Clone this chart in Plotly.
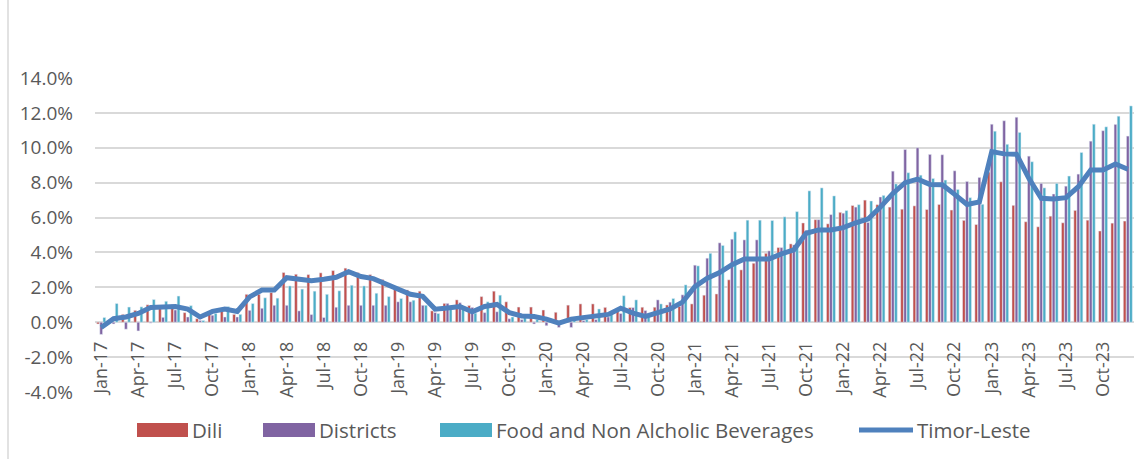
import plotly.graph_objects as go

# monthly labels Jan-17 .. Dec-23
month_names = ['Jan', 'Feb', 'Mar', 'Apr', 'May', 'Jun', 'Jul', 'Aug', 'Sep', 'Oct', 'Nov', 'Dec']
months = [m + '-' + str(y) for y in range(17, 24) for m in month_names]

dili = [-0.1, 0.1, 0.45, 0.68, 1.0, 0.92, 1.0, 0.55, 0.2, 0.45, 0.65, 0.45,
        1.6, 1.6, 1.7, 2.85, 2.75, 2.73, 2.83, 2.96, 3.1, 2.85, 2.73, 2.45,
        2.05, 1.85, 1.78, 0.65, 1.08, 1.28, 0.96, 1.47, 1.78, 1.17, 0.87, 0.87,
        0.7, 0.57, 0.98, 1.05, 1.05, 0.85, 0.8, 0.84, 0.86, 0.86, 0.99, 0.9,
        1.05, 1.55, 1.62, 2.43, 3.0, 3.38, 3.95, 4.28, 4.49, 5.69, 5.88, 5.64,
        6.3, 6.69, 7.0, 6.74, 6.6, 6.48, 6.67, 6.46, 6.75, 6.43, 5.84, 5.6,
        8.6, 8.05, 6.7, 5.76, 5.47, 6.08, 5.7, 6.41, 5.85, 5.23, 5.68, 5.8]

districts = [-0.7, -0.1, -0.4, -0.5, -0.05, 0.28, 0.7, 0.3, 0.1, 0.4, 0.3, 0.3,
             0.68, 0.8, 0.97, 0.97, 0.65, 0.44, 0.27, 0.86, 0.97, 0.97, 0.97, 0.97,
             1.17, 1.17, 0.97, 0.55, 1.08, 1.12, 0.85, 0.55, 0.6, 0.2, 0.15, -0.1,
             -0.2, -0.3, -0.3, 0.1, 0.15, 0.3, 0.5, 0.84, 0.67, 1.28, 1.15, 1.57,
             3.27, 3.67, 4.55, 4.76, 4.72, 4.72, 4.09, 4.28, 4.43, 5.27, 5.88, 6.17,
             6.25, 6.6, 5.72, 7.18, 8.66, 9.9, 10.0, 9.62, 9.6, 8.68, 8.07, 8.3,
             11.35, 11.55, 11.75, 9.52, 7.96, 7.35, 7.8, 8.49, 10.38, 10.98, 11.34, 10.67]

food = [0.27, 1.07, 0.87, 0.88, 1.3, 1.2, 1.5, 0.95, 0.1, 0.5, 0.9, 0.45,
        1.07, 1.4, 1.38, 2.08, 1.9, 1.78, 1.6, 1.8, 2.12, 2.08, 1.66, 1.47,
        1.36, 1.26, 0.97, 0.5, 0.8, 0.75, 0.52, 1.17, 1.55, 0.3, 0.45, 0.15,
        0.05, -0.05, 0.1, 0.15, 0.76, 0.45, 1.52, 1.28, 0.42, 1.05, 1.36, 2.14,
        3.23, 3.95, 4.4, 5.18, 5.85, 5.85, 5.83, 6.04, 6.34, 7.53, 7.7, 7.24,
        6.4, 6.74, 6.95, 7.27, 7.93, 8.57, 8.43, 8.24, 8.15, 7.61, 7.14, 6.76,
        10.95, 10.2, 10.88, 9.2, 7.7, 7.96, 8.38, 9.73, 11.35, 11.2, 11.81, 12.4]

timor_leste = [-0.3, 0.2, 0.3, 0.5, 0.85, 0.85, 0.9, 0.75, 0.3, 0.62, 0.75, 0.62,
               1.45, 1.85, 1.85, 2.55, 2.47, 2.38, 2.46, 2.58, 2.9, 2.62, 2.5, 2.2,
               1.83, 1.6, 1.48, 0.75, 0.82, 0.9, 0.6, 0.9, 1.02, 0.55, 0.36, 0.33,
               0.18, -0.05, 0.18, 0.28, 0.36, 0.45, 0.8, 0.52, 0.33, 0.57, 0.76, 1.15,
               2.04, 2.52, 2.85, 3.3, 3.63, 3.63, 3.63, 3.92, 4.15, 5.1, 5.29, 5.29,
               5.42, 5.7, 5.92, 6.6, 7.38, 8.0, 8.2, 7.9, 7.88, 7.33, 6.75, 6.9,
               9.78, 9.65, 9.63, 8.25, 7.1, 7.07, 7.14, 7.77, 8.73, 8.73, 9.07, 8.77]

y_ticks = [-4, -2, 0, 2, 4, 6, 8, 10, 12, 14]
y_ticktext = ['-4.0%', '-2.0%', '0.0%', '2.0%', '4.0%', '6.0%', '8.0%', '10.0%', '12.0%', '14.0%']

RED = '#C0504D'
PURPLE = '#8064A2'
TEAL = '#4BACC6'
BLUE = '#4F81BD'
TXT = '#595959'
GRID = '#D9D9D9'
FONT = 'Open Sans'

# page body margin is removed below, so figure pixels = screen pixels
W, H = 1136, 459
L, R, T, B = 95, 1134, 78, 392


def px_x(x):
    return (x - L) / (R - L)


def px_y(y):
    return (B - y) / (B - T)


fig = go.Figure()
fig.add_trace(go.Bar(x=months, y=dili, name='Dili', marker_color=RED))
fig.add_trace(go.Bar(x=months, y=districts, name='Districts', marker_color=PURPLE))
fig.add_trace(go.Bar(x=months, y=food, name='Food and Non Alcholic Beverages', marker_color=TEAL))
fig.add_trace(go.Scatter(x=months, y=timor_leste, name='Timor-Leste', mode='lines',
                         line=dict(color=BLUE, width=5, shape='linear')))

fig.update_layout(
    width=W, height=H,
    margin=dict(l=L, r=W - R, t=T, b=H - B),
    paper_bgcolor='white', plot_bgcolor='white',
    barmode='group', bargap=0.24, bargroupgap=0.12,
    showlegend=False,
    font=dict(family=FONT, color=TXT, size=18),
)
# x labels sit over the bottom band of the plot, reading upward from the -4% line
fig.update_xaxes(
    type='category', automargin=False,
    anchor='free', position=px_y(337),
    tickmode='array', tickvals=months[::3], ticktext=months[::3],
    tickangle=-90,
    tickfont=dict(size=18, color=TXT, family=FONT),
    showgrid=False, ticks='',
    showline=False, zeroline=False,
)
fig.update_yaxes(
    range=[-4, 14], automargin=False,
    tickmode='array', tickvals=y_ticks, ticktext=y_ticktext,
    tickfont=dict(size=19, color=TXT, family=FONT),
    showgrid=True, gridcolor=GRID, gridwidth=1.5,
    zeroline=False, showline=False, ticks='', ticklabelstandoff=21,
)

shapes = [
    dict(type='line', xref='paper', yref='paper', x0=px_x(8), x1=px_x(8), y0=px_y(0), y1=px_y(459),
         line=dict(color=GRID, width=1.5)),
    dict(type='rect', xref='paper', yref='paper', x0=px_x(137), x1=px_x(188), y0=px_y(423), y1=px_y(437),
         fillcolor=RED, line=dict(width=0)),
    dict(type='rect', xref='paper', yref='paper', x0=px_x(263), x1=px_x(315), y0=px_y(423), y1=px_y(437),
         fillcolor=PURPLE, line=dict(width=0)),
    dict(type='rect', xref='paper', yref='paper', x0=px_x(440), x1=px_x(492), y0=px_y(423), y1=px_y(437),
         fillcolor=TEAL, line=dict(width=0)),
    dict(type='line', xref='paper', yref='paper', x0=px_x(859), x1=px_x(913), y0=px_y(430), y1=px_y(430),
         line=dict(color=BLUE, width=5)),
]
legend_items = [('Dili', 190), ('Districts', 317), ('Food and Non Alcholic Beverages', 494), ('Timor-Leste', 915)]
annotations = [dict(text=t, x=px_x(x), y=px_y(430), xref='paper', yref='paper', xanchor='left',
                    yanchor='middle', showarrow=False, font=dict(size=20.5, color=TXT, family=FONT))
               for t, x in legend_items]
fig.update_layout(shapes=shapes, annotations=annotations)

fig.write_html("out.html", config={'displayModeBar': False},
               post_script="document.body.style.margin = '0';")
